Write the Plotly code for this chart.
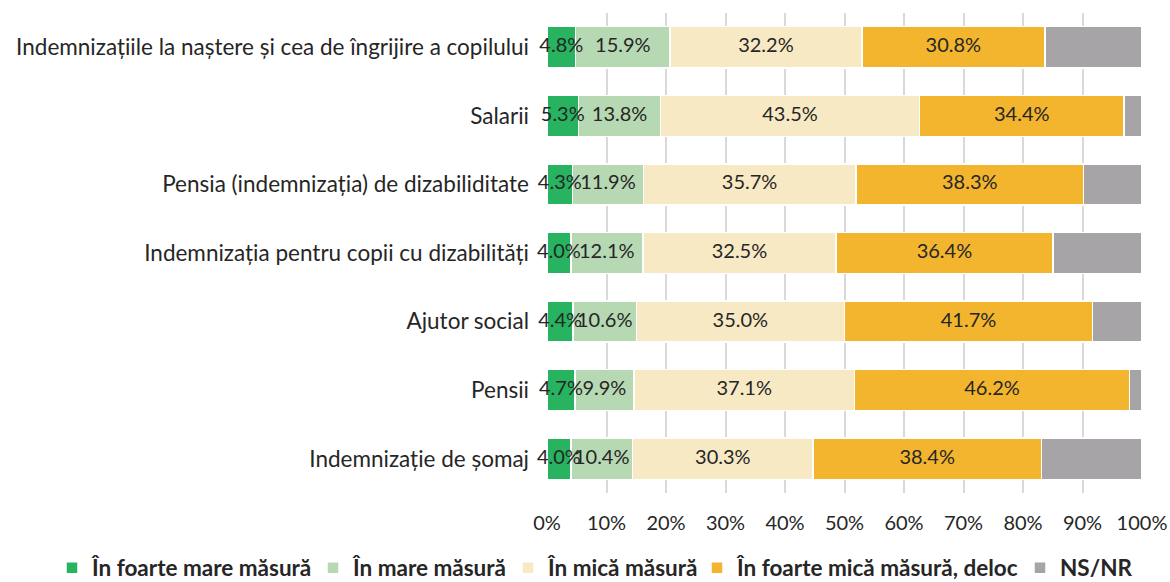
import numpy as np
import plotly.graph_objects as go

categories = [
    "Indemnizațiile la naștere și cea de îngrijire a copilului",
    "Salarii",
    "Pensia (indemnizația) de dizabiliditate",
    "Indemnizația pentru copii cu dizabilități",
    "Ajutor social",
    "Pensii",
    "Indemnizație de șomaj",
]
series_names = [
    "În foarte mare măsură",
    "În mare măsură",
    "În mică măsură",
    "În foarte mică măsură, deloc",
    "NS/NR",
]
foarte_mare = [4.8, 5.3, 4.3, 4.0, 4.4, 4.7, 4.0]
mare = [15.9, 13.8, 11.9, 12.1, 10.6, 9.9, 10.4]
mica = [32.2, 43.5, 35.7, 32.5, 35.0, 37.1, 30.3]
foarte_mica = [30.8, 34.4, 38.3, 36.4, 41.7, 46.2, 38.4]
ns_nr = [16.3, 3.0, 9.8, 15.0, 8.3, 2.1, 16.9]
tick_vals = [0, 10, 20, 30, 40, 50, 60, 70, 80, 90, 100]
tick_text = [f"{v}%" for v in tick_vals]

colors = ["#27B35F", "#B6D9B3", "#F8E9C5", "#F3B52E", "#A6A4A6"]
values = [foarte_mare, mare, mica, foarte_mica, ns_nr]
show_text = [True, True, True, True, False]
legend_ids = ["legend", "legend2", "legend3", "legend4", "legend5"]
legend_text_start = [92, 353, 548, 737, 1060]

W, H = 1170, 582
FONT = "Lato"
TXT = "#262626"
fig = go.Figure()
for name, vals, col, lid in zip(series_names, values, colors, legend_ids):
    fig.add_trace(go.Bar(
        y=categories, x=vals, name=name, orientation="h",
        legend=lid, showlegend=True,
        marker=dict(color=col, line=dict(color="white", width=1.5)),
        hoverinfo="x+name",
    ))

# data labels drawn on top of all bars (centre of each segment)
cum = np.zeros(len(categories))
for vals, st in zip(values, show_text):
    arr = np.array(vals, dtype=float)
    mids = cum + arr / 2
    cum = cum + arr
    if st:
        fig.add_trace(go.Scatter(
            x=mids, y=categories, mode="text",
            text=[f"{v:.1f}%" for v in vals],
            textposition="middle center",
            textfont=dict(family=FONT, size=20, color=TXT),
            showlegend=False, hoverinfo="skip", cliponaxis=False,
        ))

layout_legends = {}
for lid, ts in zip(legend_ids, legend_text_start):
    layout_legends[lid] = dict(
        orientation="h", xref="container", yref="container",
        x=(ts - 40) / W, xanchor="left", y=1 - 568 / H, yanchor="middle",
        font=dict(family=FONT, size=22.5, color=TXT, weight="bold"),
        itemwidth=30, bgcolor="rgba(0,0,0,0)", borderwidth=0,
        itemclick=False, itemdoubleclick=False,
    )

fig.update_layout(
    barmode="stack",
    bargap=0.4,
    showlegend=True,
    width=W, height=H,
    margin=dict(l=547, r=28, t=13, b=89, autoexpand=False),
    paper_bgcolor="white", plot_bgcolor="white",
    font=dict(family=FONT, size=20, color=TXT),
    xaxis=dict(range=[0, 100], tickvals=tick_vals, ticktext=tick_text,
               showgrid=True, gridcolor="#D9D9D9", gridwidth=2,
               zeroline=False, showline=False, ticks="", automargin=False,
               ticklabelstandoff=16,
               tickfont=dict(family=FONT, size=20, color=TXT)),
    yaxis=dict(categoryorder="array", categoryarray=categories,
               autorange="reversed", showgrid=False, showline=False,
               ticks="", ticklabelstandoff=17, automargin=False,
               tickfont=dict(family=FONT, size=22.5, color=TXT)),
    **layout_legends,
)
fig.write_html("out.html", config={"displayModeBar": False},
               post_script="document.body.style.margin='0px';")
